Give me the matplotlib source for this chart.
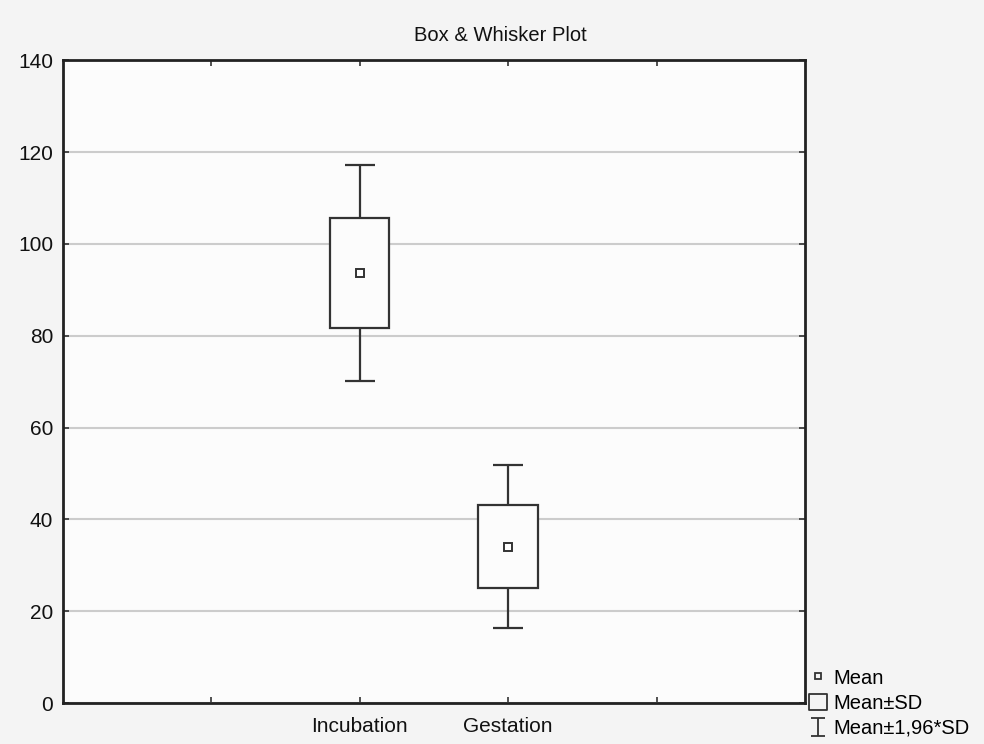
import matplotlib
matplotlib.use("Agg")
import matplotlib.pyplot as plt
from matplotlib.lines import Line2D
from matplotlib.path import Path

groups = ["Incubation", "Gestation"]
positions = [2, 3]
means = [93.6, 34.1]
sds = [12.0, 9.1]
yticks = [0, 20, 40, 60, 80, 100, 120, 140]

plt.rcParams['font.family'] = ['Liberation Sans', 'DejaVu Sans']
dark = '#333333'

fig = plt.figure(figsize=(9.84, 7.44), dpi=100, facecolor='#f4f4f4')
ax = fig.add_axes([0.064, 0.055, 0.754, 0.864])
ax.set_facecolor('#fcfcfc')

lo = [m - s for m, s in zip(means, sds)]
hi2 = [2 * s for s in sds]
ci = [1.96 * s for s in sds]

ax.errorbar(positions, means, yerr=ci, fmt='none', ecolor=dark, elinewidth=1.6,
            capsize=11, capthick=1.6, zorder=2)
ax.bar(positions, hi2, bottom=lo, width=0.4, color='#fcfcfc', edgecolor=dark,
       linewidth=1.6, zorder=3)
ax.plot(positions, means, ls='none', marker='s', ms=6, mfc='white', mec=dark,
        mew=1.4, zorder=4)

ax.set_xlim(0, 5)
ax.set_ylim(0, 140)
ax.set_yticks(yticks)
ax.set_xticks([1, 2, 3, 4])
ax.set_xticklabels(['', groups[0], groups[1], ''])
ax.yaxis.grid(True, color='#cccccc', lw=1.5)
ax.set_axisbelow(True)
ax.tick_params(direction='in', length=4, width=1.2, colors=dark, labelsize=15,
               top=True, right=True, labelcolor='#111111')
ax.tick_params(axis='x', pad=10)
ax.tick_params(axis='y', pad=7)
for sp in ax.spines.values():
    sp.set_linewidth(2)
    sp.set_color('#222222')

fig.text(0.509, 0.952, 'Box & Whisker Plot', fontsize=14.5, color='#111111',
         ha='center', va='center')

ibeam = Path([(-0.75, -1), (0.75, -1), (0, -1), (0, 1), (-0.75, 1), (0.75, 1)],
             [Path.MOVETO, Path.LINETO, Path.MOVETO, Path.LINETO, Path.MOVETO, Path.LINETO])
rect = Path([(-1, -0.88), (1, -0.88), (1, 0.88), (-1, 0.88), (-1, -0.88)],
            [Path.MOVETO, Path.LINETO, Path.LINETO, Path.LINETO, Path.CLOSEPOLY])
handles = [
    Line2D([], [], ls='none', marker='s', ms=5, mfc='none', mec=dark, mew=1.3),
    Line2D([], [], ls='none', marker=rect, ms=12.5, mfc='none', mec=dark, mew=1.3),
    Line2D([], [], ls='none', marker=ibeam, ms=13.5, mfc='none', mec=dark, mew=1.3),
]
ax.legend(handles, ['Mean', 'Mean\u00b1SD', 'Mean\u00b11,96*SD'], loc='lower left',
          bbox_to_anchor=(1.0, -0.06), frameon=False, fontsize=14.5,
          handlelength=0.9, handletextpad=0.3, labelspacing=0.3, borderaxespad=0,
          borderpad=0.2)

fig.savefig('out.png', dpi=100, facecolor=fig.get_facecolor())
